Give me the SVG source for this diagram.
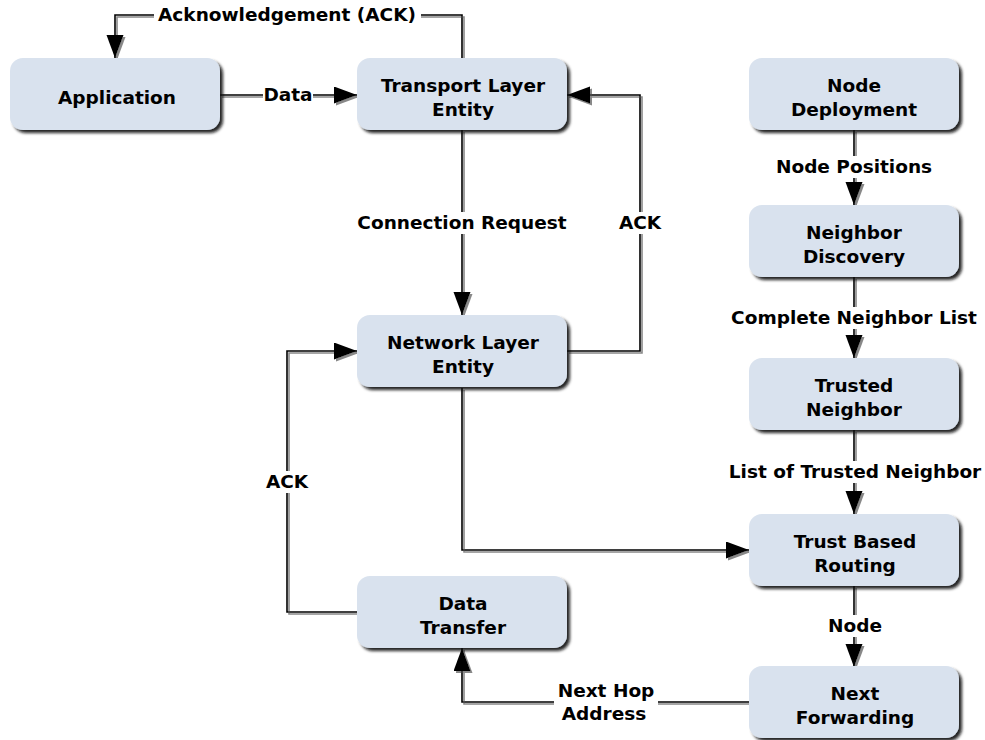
<svg xmlns="http://www.w3.org/2000/svg" width="985" height="740" viewBox="0 0 985 740">
<defs>
<filter id="sh" x="-10%" y="-20%" width="130%" height="150%">
<feDropShadow dx="3" dy="3" stdDeviation="1.8" flood-color="#111" flood-opacity="0.9"/>
</filter>
<filter id="lsh" x="-5%" y="-5%" width="110%" height="110%">
<feDropShadow dx="2" dy="2" stdDeviation="0.3" flood-color="#888" flood-opacity="1"/>
</filter>
<marker id="ah" markerUnits="userSpaceOnUse" markerWidth="26" markerHeight="20" refX="23" refY="8.5" orient="auto">
<path d="M0,0 L23,8.5 L0,17 z" fill="#000"/>
</marker>
</defs>
<style>
.box{fill:#d9e2ee;filter:url(#sh);}
.t{font-family:"DejaVu Sans",Verdana,sans-serif;font-weight:bold;font-size:18.5px;fill:#000;text-anchor:middle;}
.c{fill:none;stroke:#000;stroke-width:1.6;marker-end:url(#ah);}
.bg{fill:#fff;}
</style>
<rect width="985" height="740" fill="#fff"/>
<g id="connectors" filter="url(#lsh)">
<path class="c" d="M462,58 V15 H115 V58"/>
<path class="c" d="M220,95 H357"/>
<path class="c" d="M462,130 V315"/>
<path class="c" d="M567,351 H640 V95 H567"/>
<path class="c" d="M462,388 V550 H749"/>
<path class="c" d="M357,612 H287 V351 H357"/>
<path class="c" d="M749,702 H462 V648"/>
<path class="c" d="M854,130 V205"/>
<path class="c" d="M854,277 V358"/>
<path class="c" d="M854,430 V514"/>
<path class="c" d="M854,586 V667"/>
</g>
<g id="labels">
<rect class="bg" x="154" y="4" width="267" height="22"/>
<text class="t" x="287" y="21">Acknowledgement (ACK)</text>
<rect class="bg" x="263" y="84" width="50" height="22"/>
<text class="t" x="288" y="101">Data</text>
<rect class="bg" x="355" y="212" width="214" height="22"/>
<text class="t" x="462" y="229">Connection Request</text>
<rect class="bg" x="616" y="212" width="48" height="22"/>
<text class="t" x="640" y="229">ACK</text>
<rect class="bg" x="263" y="471" width="48" height="22"/>
<text class="t" x="287" y="488">ACK</text>
<rect class="bg" x="554" y="679" width="104" height="46"/>
<text class="t" x="606" y="697">Next Hop</text>
<text class="t" x="604" y="720">Address</text>
<rect class="bg" x="774" y="156" width="160" height="22"/>
<text class="t" x="854" y="173">Node Positions</text>
<rect class="bg" x="729" y="307" width="251" height="22"/>
<text class="t" x="854" y="324">Complete Neighbor List</text>
<rect class="bg" x="725" y="461" width="260" height="22"/>
<text class="t" x="855" y="478">List of Trusted Neighbor</text>
<rect class="bg" x="826" y="615" width="58" height="22"/>
<text class="t" x="855" y="632">Node</text>
</g>
<g id="application"><rect class="box" x="10" y="58" width="210" height="72" rx="13"/><text class="t" x="117" y="104">Application</text></g>
<g id="transport"><rect class="box" x="357" y="58" width="210" height="72" rx="13"/><text class="t" x="463" y="92">Transport Layer</text><text class="t" x="463" y="116">Entity</text></g>
<g id="deployment"><rect class="box" x="749" y="58" width="210" height="72" rx="13"/><text class="t" x="854" y="92">Node</text><text class="t" x="854" y="116">Deployment</text></g>
<g id="discovery"><rect class="box" x="749" y="205" width="210" height="72" rx="13"/><text class="t" x="854" y="239">Neighbor</text><text class="t" x="854" y="263">Discovery</text></g>
<g id="network"><rect class="box" x="357" y="315" width="210" height="72" rx="13"/><text class="t" x="463" y="349">Network Layer</text><text class="t" x="463" y="373">Entity</text></g>
<g id="trusted"><rect class="box" x="749" y="358" width="210" height="72" rx="13"/><text class="t" x="854" y="392">Trusted</text><text class="t" x="854" y="416">Neighbor</text></g>
<g id="routing"><rect class="box" x="749" y="514" width="210" height="72" rx="13"/><text class="t" x="855" y="548">Trust Based</text><text class="t" x="855" y="572">Routing</text></g>
<g id="datatransfer"><rect class="box" x="357" y="576" width="210" height="72" rx="13"/><text class="t" x="463" y="610">Data</text><text class="t" x="463" y="634">Transfer</text></g>
<g id="forwarding"><rect class="box" x="749" y="666" width="210" height="72" rx="13"/><text class="t" x="855" y="700">Next</text><text class="t" x="855" y="724">Forwarding</text></g>
</svg>
